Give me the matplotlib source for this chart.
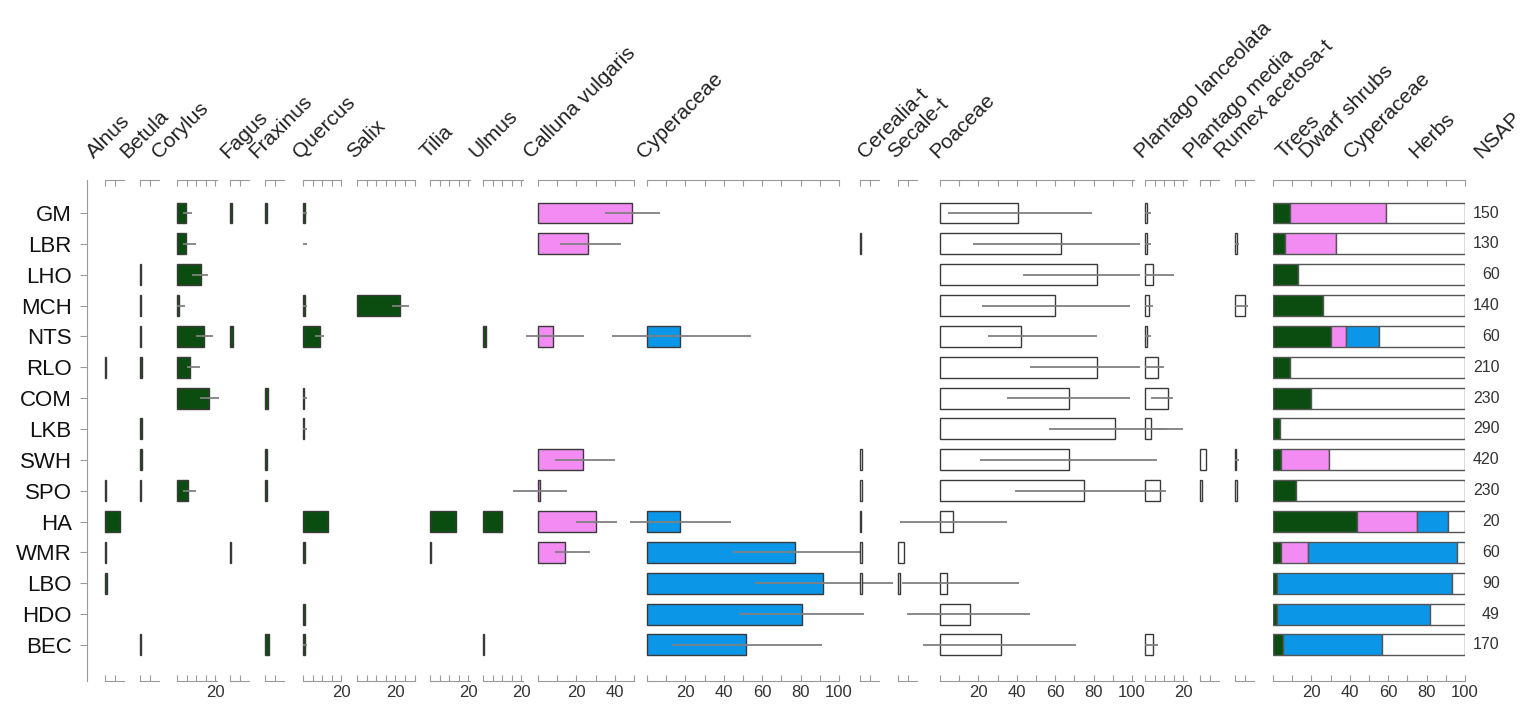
import numpy as np
import matplotlib.pyplot as plt

plt.rcParams['font.family'] = ['Liberation Sans', 'DejaVu Sans']

nan = np.nan

sites = ['GM', 'LBR', 'LHO', 'MCH', 'NTS', 'RLO', 'COM', 'LKB', 'SWH', 'SPO',
         'HA', 'WMR', 'LBO', 'HDO', 'BEC']

# mean percentages (bars) and whisker ranges, one value per site
alnus = [0, 0, 0, 0, 0, 0.4, 0, 0, 0, 0.4, 8, 0.4, 1, 0, 0]
betula = [0, 0, 0.4, 0.4, 0.4, 1, 0, 1, 1, 0.4, 0, 0, 0, 0, 0.4]
corylus = [4.7, 4.5, 12.5, 1, 14, 7, 16.5, 0, 0, 5.5, 0, 0, 0, 0, 0]
corylus_lo = [3, 3, 8, 0, 10, 5, 12, nan, nan, 3, nan, nan, nan, nan, nan]
corylus_hi = [8, 10, 16, 4, 19, 12, 22, nan, nan, 10, nan, nan, nan, nan, nan]
fagus = [1, 0, 0, 0, 1.5, 0, 0, 0, 0, 0, 0, 0.4, 0, 0, 0]
fraxinus = [0.8, 0, 0, 0, 0, 0, 1.5, 0, 1.2, 0.8, 0, 0, 0, 0, 2]
quercus = [0.8, 0, 0, 0.8, 9, 0, 0.6, 0.6, 0, 0, 13, 1, 0, 1, 1]
quercus_lo = [0, 0, nan, 0, 6, nan, 0, 0, nan, nan, nan, nan, nan, nan, 0]
quercus_hi = [2, 2, nan, 2, 11, nan, 2, 2, nan, nan, nan, nan, nan, nan, 2]
salix = [0, 0, 0, 22.5, 0, 0, 0, 0, 0, 0, 0, 0, 0, 0, 0]
salix_lo = [nan, nan, nan, 18, nan, nan, nan, nan, nan, nan, nan, nan, nan, nan, nan]
salix_hi = [nan, nan, nan, 27, nan, nan, nan, nan, nan, nan, nan, nan, nan, nan, nan]
tilia = [0, 0, 0, 0, 0, 0, 0, 0, 0, 0, 13.5, 0.4, 0, 0, 0]
ulmus = [0, 0, 0, 0, 1.5, 0, 0, 0, 0, 0, 10, 0, 0, 0, 0.4]
calluna = [49, 26, 0, 0, 8, 0, 0, 0, 23.5, 0.8, 30, 14, 0, 0, 0]
calluna_lo = [35, 11.5, nan, nan, -6, nan, nan, nan, 9, -13, 20, 9, nan, nan, nan]
calluna_hi = [63.5, 43, nan, nan, 24, nan, nan, nan, 40, 15, 41, 27, nan, nan, nan]
cyper = [0, 0, 0, 0, 17, 0, 0, 0, 0, 0, 17, 77, 91.5, 80.5, 51.5]
cyper_lo = [nan, nan, nan, nan, -18, nan, nan, nan, nan, nan, -9, 45, 56, 48, 13]
cyper_hi = [nan, nan, nan, nan, 54, nan, nan, nan, nan, nan, 44, 112, 128, 113, 91]
cerealia = [0, 0.4, 0, 0, 0, 0, 0, 0, 0.8, 1, 0.4, 1, 1, 0, 0]
secale = [0, 0, 0, 0, 0, 0, 0, 0, 0, 0, 0, 3, 1, 0, 0]
poaceae = [40.5, 63, 82, 60, 42, 82, 67, 91, 67, 75, 7, 0, 3.5, 15.5, 32]
poaceae_lo = [4, 17, 43, 22, 25, 47, 35, 57, 21, 39, -21, nan, -20, -17, -9]
poaceae_hi = [79, 104, 104, 99, 82, 104, 99, 118, 113, 107, 35, nan, 41, 47, 71]
plan_lanc = [1, 1, 4, 2, 1, 7, 12, 3, 0, 8, 0, 0, 0, 0, 4]
plan_lanc_lo = [0, 0, 0, 0, 0, 0, 3, 0, nan, 0, nan, nan, nan, nan, 0]
plan_lanc_hi = [3, 3, 15, 4, 3, 10, 14.5, 20, nan, 11, nan, nan, nan, nan, 7]
plan_media = [0, 0, 0, 0, 0, 0, 0, 0, 3, 1, 0, 0, 0, 0, 0]
rumex = [0, 1, 0, 5, 0, 0, 0, 0, 0.5, 1, 0, 0, 0, 0, 0]
rumex_lo = [nan, 0, nan, 0, nan, nan, nan, nan, 0, nan, nan, nan, nan, nan, nan]
rumex_hi = [nan, 2, nan, 7, nan, nan, nan, nan, 2, nan, nan, nan, nan, nan, nan]

# summary groups (%)
trees = [9, 6, 13, 26, 30, 9, 20, 3.5, 4, 12, 44, 4, 2, 2, 5]
dwarf_shrubs = [50, 27, 0, 0, 8, 0, 0, 0, 25, 0, 31, 14, 0, 0, 0]
cyperaceae_grp = [0, 0, 0, 0, 17, 0, 0, 0, 0, 0, 16, 78, 91, 80, 52]
nsap = [150, 130, 60, 140, 60, 210, 230, 290, 420, 230, 20, 60, 90, 49, 170]

GREEN = '#0b4d10'
PINK = '#f28cf2'
BLUE = '#0b96e8'
WHITE = 'white'

# name, mean, lo, hi, colour, left px, x max, label shift px
panels = [
    ('Alnus', alnus, None, None, GREEN, 105, 10, -8),
    ('Betula', betula, None, None, GREEN, 140, 10, -10),
    ('Corylus', corylus, corylus_lo, corylus_hi, GREEN, 177, 21, -15),
    ('Fagus', fagus, None, None, GREEN, 230, 10, 0),
    ('Fraxinus', fraxinus, None, None, GREEN, 265, 10, -6),
    ('Quercus', quercus, quercus_lo, quercus_hi, GREEN, 303, 20, 0),
    ('Salix', salix, salix_lo, salix_hi, GREEN, 357, 30, 0),
    ('Tilia', tilia, None, None, GREEN, 430, 21, 0),
    ('Ulmus', ulmus, None, None, GREEN, 483, 21, -4),
    ('Calluna vulgaris', calluna, calluna_lo, calluna_hi, PINK, 538, 50, -4),
    ('Cyperaceae', cyper, cyper_lo, cyper_hi, BLUE, 647, 100, 0),
    ('Cerealia-t', cerealia, None, None, WHITE, 860, 10, 8),
    ('Secale-t', secale, None, None, WHITE, 898, 10, 0),
    ('Poaceae', poaceae, poaceae_lo, poaceae_hi, WHITE, 940, 101, 0),
    ('Plantago lanceolata', plan_lanc, plan_lanc_lo, plan_lanc_hi, WHITE, 1145, 22, 0),
    ('Plantago media', plan_media, None, None, WHITE, 1200, 10, -6),
    ('Rumex acetosa-t', rumex, rumex_lo, rumex_hi, WHITE, 1235, 10, -10),
]

W, H = 1522, 718
SCALE = 1.92          # px per percent
TOP, BOT = 180, 681   # px
YLIM = (15.17, -1.07)
rows = np.arange(len(sites))
AX_COL = '#9a9a9a'
EDGE = '#3a3a3a'
WHISK = '#808080'

fig = plt.figure(figsize=(W / 100, H / 100), dpi=100)
fb = 1 - BOT / H
fh = (BOT - TOP) / H


def make_axes(x0, xmax):
    ax = fig.add_axes([x0 / W, fb, xmax * SCALE / W, fh])
    ax.set_xlim(0, xmax)
    ax.set_ylim(*YLIM)
    ax.patch.set_alpha(0)
    ax.spines['left'].set_visible(False)
    ax.spines['right'].set_visible(False)
    ax.spines['top'].set_color(AX_COL)
    ax.spines['bottom'].set_color(AX_COL)
    ax.set_yticks([])
    step = 10 if xmax > 30 else 5
    ticks = np.arange(0, xmax + 0.01, step)
    if xmax <= 10:
        ticks = [0, 5]
    ax.set_xticks(ticks)
    ax.set_xticklabels([f'{t:g}' if (t > 0 and t % 20 == 0) else '' for t in ticks])
    ax.tick_params(axis='x', top=True, direction='in', length=4, width=0.8,
                   color=AX_COL, labelsize=12, pad=3, labelcolor='#333333')
    return ax


def top_label(ax, text, x, dx):
    ax.annotate(text, xy=(x, 1), xycoords=('data', 'axes fraction'),
                xytext=(dx * 0.72, 13), textcoords='offset points',
                rotation=45, rotation_mode='anchor', ha='left', va='bottom',
                fontsize=15, color='#222222', annotation_clip=False)


for name, mean, lo, hi, col, x0, xmax, dx in panels:
    ax = make_axes(x0, xmax)
    m = np.array(mean, dtype=float)
    ok = m > 0
    ax.barh(rows[ok], m[ok], height=0.68, color=col, edgecolor=EDGE,
            linewidth=1.0, zorder=2, clip_on=False)
    if lo is not None:
        lo_a = np.array(lo, dtype=float)
        hi_a = np.array(hi, dtype=float)
        w = ~np.isnan(lo_a)
        ax.hlines(rows[w], lo_a[w], hi_a[w], color=WHISK, linewidth=1.3,
                  zorder=3, clip_on=False)
    top_label(ax, name, 0, dx)

# summary panel
axg = make_axes(1273, 100)
tr = np.array(trees, dtype=float)
ds = np.array(dwarf_shrubs, dtype=float)
cy = np.array(cyperaceae_grp, dtype=float)
he = 100 - tr - ds - cy
left = np.zeros(len(sites))
for vals, col in [(tr, GREEN), (ds, PINK), (cy, BLUE), (he, WHITE)]:
    ok = vals > 0
    axg.barh(rows[ok], vals[ok], left=left[ok], height=0.68, color=col,
             edgecolor='#555555', linewidth=1.0, zorder=2)
    left += vals
for r, n in zip(rows, nsap):
    axg.text(118, r, str(n), ha='right', va='center', fontsize=11.5,
             color='#333333', clip_on=False)
for name, x in [('Trees', 7), ('Dwarf shrubs', 19), ('Cyperaceae', 42),
                ('Herbs', 76), ('NSAP', 110)]:
    top_label(axg, name, x, 0)

# site axis
axl = fig.add_axes([87 / W, fb, 0.0005, fh])
axl.set_ylim(*YLIM)
axl.set_xticks([])
for s in ['top', 'bottom', 'right']:
    axl.spines[s].set_visible(False)
axl.spines['left'].set_color(AX_COL)
axl.set_yticks(rows)
axl.set_yticklabels(sites)
axl.tick_params(axis='y', direction='out', length=5, color=AX_COL,
                labelsize=16, pad=6, labelcolor='#111111')
axl.patch.set_alpha(0)

fig.savefig('out.png', dpi=100)
